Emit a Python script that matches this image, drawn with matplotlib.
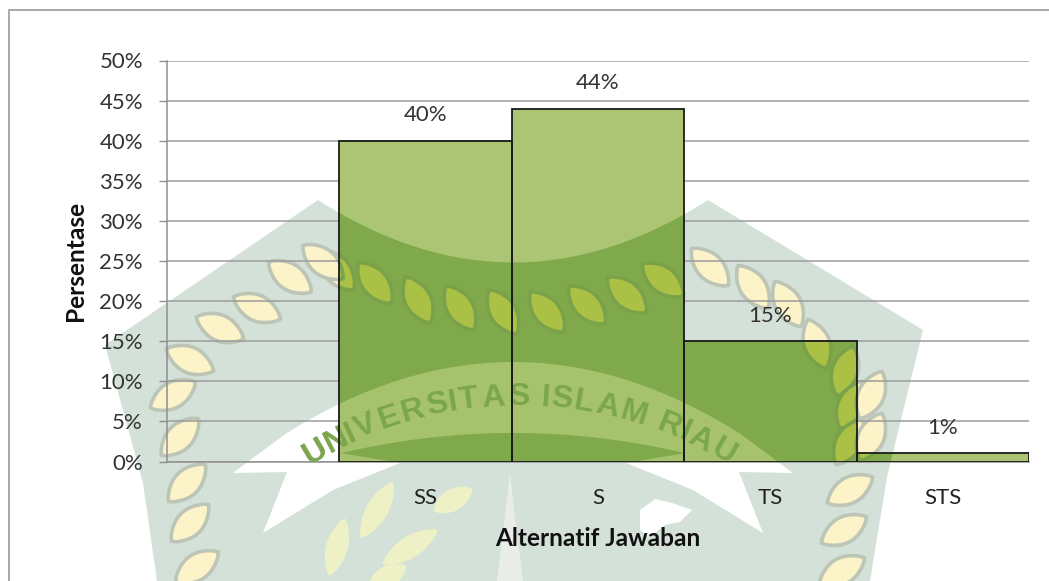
import numpy as np
import matplotlib
matplotlib.use("Agg")
import matplotlib.pyplot as plt
from matplotlib.patches import Polygon, PathPatch
from matplotlib.path import Path
from matplotlib.textpath import TextPath
from matplotlib.font_manager import FontProperties
from matplotlib.transforms import IdentityTransform

categories = ["", "SS", "S", "TS", "STS"]
values = [0, 40, 44, 15, 1]
yticks = [0, 5, 10, 15, 20, 25, 30, 35, 40, 45, 50]

W, H = 1049, 581
plt.rcParams['font.family'] = ['Lato', 'DejaVu Sans']
FS = 16
FB = 17.6
fig = plt.figure(figsize=(W/100, H/100), dpi=100, facecolor='white')

L, R, T, B = 167, 1029, 60.5, 461.5
ax = fig.add_axes([L/W, 1-B/H, (R-L)/W, (B-T)/H], zorder=1)
ax.patch.set_visible(False)
ax.set_xlim(-0.5, 4.5)
ax.set_ylim(0, 50)
ax.set_yticks(yticks)
ax.set_yticklabels([f"{v}%" for v in yticks], fontsize=FS, color='#333333')
ax.set_xticks(range(5))
ax.set_xticklabels(categories, fontsize=FS, color='#222222')
ax.tick_params(axis='x', length=0, pad=19)
ax.tick_params(axis='y', length=5.8, width=1.0, color='#8f8f8f', pad=11.5)
ax.yaxis.grid(True, color='#9c9c9c', lw=1.1, zorder=1)
ax.set_axisbelow(True)
for s in ('top', 'right'):
    ax.spines[s].set_visible(False)
for s in ('left', 'bottom'):
    ax.spines[s].set_color('#8f8f8f')
    ax.spines[s].set_linewidth(1.1)
ax.set_xlabel("Alternatif Jawaban", fontsize=FB, fontweight='bold', color='#111111', labelpad=14)
ax.set_ylabel("Persentase", fontsize=FB, fontweight='bold', color='#111111', labelpad=9)

bars = ax.bar(range(5), values, width=1.0, color='#abc575', edgecolor='none', zorder=2)
for x, v in zip(range(1, 5), values[1:]):
    ax.annotate(f"{v}%", (x, v), xytext=(0, 18.5), textcoords='offset points', ha='center',
                va='center', fontsize=FS, color='#333333', zorder=7)

wm = fig.add_axes([0, 0, 1, 1], zorder=0)
wm.set_xlim(0, W); wm.set_ylim(H, 0); wm.axis('off')
ov = fig.add_axes([0, 0, 1, 1], zorder=2)
ov.set_xlim(0, W); ov.set_ylim(H, 0); ov.axis('off'); ov.patch.set_visible(False)
CX = 513


def shield():
    ts = np.linspace(0, 1, 50)
    arc = [((1-t)**2*318+2*t*(1-t)*513+t*t*708, (1-t)**2*200+2*t*(1-t)*325+t*t*200) for t in ts]
    return arc + [(923, 330), (887, 477), (870, 581), (157, 581), (143, 483), (105, 345)]


def band():
    d = np.linspace(-225, 225, 80)
    xs = CX + d
    top = 362 + 0.00139*d**2
    low = 433 + 0.00068*d**2
    return list(zip(xs, top)) + list(zip(xs[::-1], low[::-1]))


def lens(x, y, ang, length=52, width=26):
    t = np.linspace(0, 1, 21)
    u = (t-0.5)*length
    v = 0.5*width*np.sin(np.pi*t)**0.75
    pts = np.r_[np.c_[u, v], np.c_[u[::-1], -v[::-1]]]
    a = np.radians(ang)
    rot = np.array([[np.cos(a), -np.sin(a)], [np.sin(a), np.cos(a)]])
    return pts @ rot.T + [x, y]


# x, y, angle (clockwise on screen)
leaves = [(337,270,50),(375,283,51),(418,300,62),(460,308,58),(503,312,58),(547,312,50),(587,305,46),
          (627,295,42),(663,280,38),(323,262,40),(290,277,35),(257,308,25),(220,328,25),(190,360,25),
          (173,395,-30),(180,437,-45),(187,483,-45),(190,523,-45),(197,567,-35),
          (710,267,45),(753,287,55),(788,304,60),(817,344,70),(845,371,-72),(851,405,-65),(849,442,-60),
          (871,395,-65),(871,437,-65),(850,490,-30),(844,530,-30),(842,571,-30)]
sprig = [(377,510,-60,65),(453,500,-30,45),(410,547,-32,65),(337,547,-75,60),(387,577,-30,45)]


def draw(a, pal, clip=None):
    arts = [a.add_patch(Polygon(shield(), closed=True, fc=pal['shield'], ec='none', zorder=1)),
            a.add_patch(Polygon(band(), closed=True, fc=pal['band'], ec='none', zorder=2))]
    tail = [(288,432),(233,473),(287,472),(263,533),(333,490),(400,463),(340,453)]
    for sgn in (-1, 1):
        pts = [(CX+sgn*(CX-x), y) for x, y in tail]
        arts.append(a.add_patch(Polygon(pts, closed=True, fc=pal['band'], ec='none', zorder=2)))
    arts.append(a.add_patch(Polygon([(640,510),(655,499),(672,503),(692,510),(680,522),(665,525),(650,537),(640,530)],
                                    closed=True, fc=pal['band'], ec='none', zorder=2)))
    arts.append(a.add_patch(Polygon([(510,473),(516,525),(523,581),(497,581),(504,525)],
                                    closed=True, fc='#e8ede9', ec='none', zorder=2)))
    for x, y, ang, ln in sprig:
        arts.append(a.add_patch(Polygon(lens(x, y, ang, ln, 22), closed=True, fc='#eef0c6', ec='none', zorder=3)))
    for x, y, ang in leaves:
        arts.append(a.add_patch(Polygon(lens(x, y, ang), closed=True, fc=pal['leaf'], ec=pal['rim'], lw=2.6, zorder=3)))
    word = "UNIVERSITAS ISLAM RIAU"
    fp = FontProperties(family='Liberation Sans', weight='bold', size=23)
    widths = []
    for ch in word:
        widths.append(TextPath((0, 0), ch, prop=fp).get_extents().width*100/72 + 2 if ch != ' ' else 9)
    pos = np.cumsum(widths) - np.array(widths)/2
    pos = pos - (pos[0]+pos[-1])/2
    Rr = 406
    span = 2*np.arcsin(204/Rr)
    for ch, s in zip(word, pos):
        r = s/(pos[-1]-pos[0])*span
        arts.append(a.text(519+Rr*np.sin(r), 803-Rr*np.cos(r), ch, rotation=-np.degrees(r), rotation_mode='anchor',
                           ha='center', va='center', fontproperties=fp, color=pal['text'], zorder=4))
    if clip is not None:
        for art in arts:
            art.set_clip_path(clip)


pale = dict(shield='#d4e1d8', band='#ffffff', leaf='#fdf3c8', rim='#bcc5b6', text='#aeb6b0')
dark = dict(shield='#7fa94b', band='#a6c26c', leaf='#abc145', rim='#7aa24a', text='#7ba64a')
draw(wm, pale)

verts, codes = [], []
for b in bars[1:]:
    p = ax.transData.transform(b.get_corners())
    verts += list(p) + [p[0]]
    codes += [Path.MOVETO, Path.LINETO, Path.LINETO, Path.LINETO, Path.CLOSEPOLY]
clip_patch = PathPatch(Path(verts, codes), transform=IdentityTransform())
draw(ov, dark, clip=clip_patch)

top = fig.add_axes(ax.get_position(), zorder=3)
top.patch.set_visible(False); top.axis('off')
top.set_xlim(ax.get_xlim()); top.set_ylim(ax.get_ylim())
top.bar(range(1, 5), values[1:], width=1.0, fill=False, edgecolor='#1a1a1a', lw=1.3)

fig.add_artist(plt.Line2D([8.5/W, 8.5/W, 1], [0, 1-9.5/H, 1-9.5/H], color='#a8a8a8', lw=1.4))

fig.savefig("out.png", dpi=100)
